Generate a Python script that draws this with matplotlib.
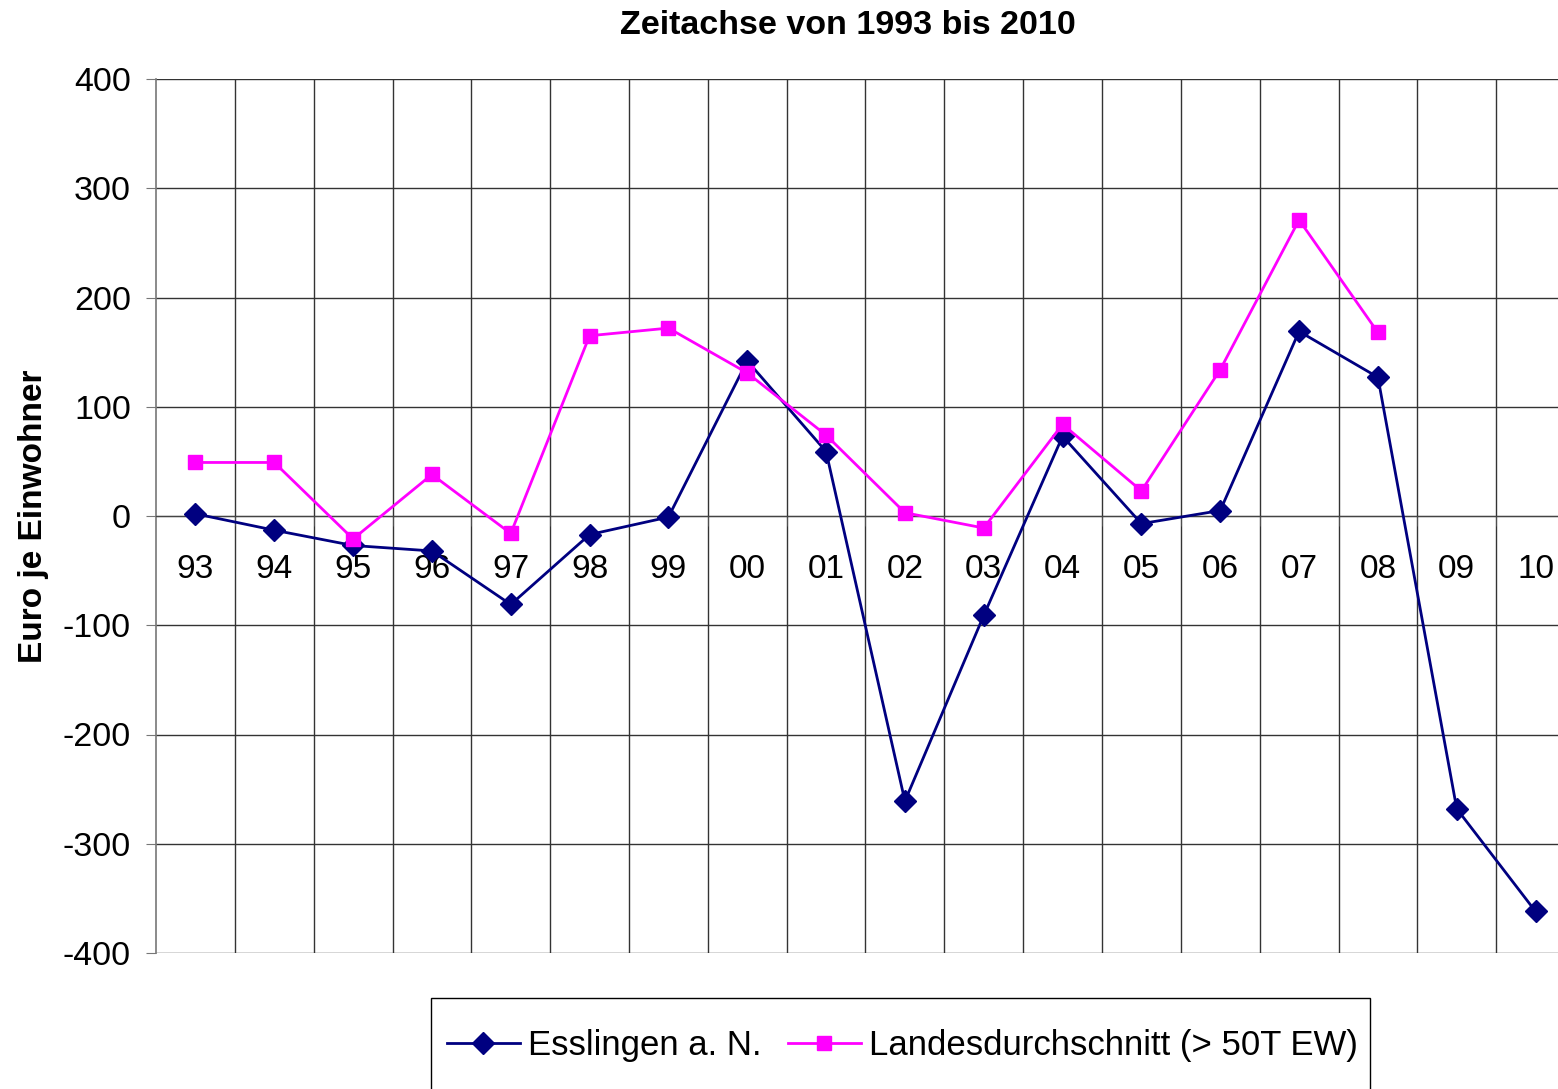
import numpy as np
import matplotlib.pyplot as plt
from matplotlib.patches import Rectangle

plt.rcParams['font.family'] = ['Liberation Sans', 'DejaVu Sans']
plt.rcParams['axes.unicode_minus'] = False

# --- Data ---
years = ['93', '94', '95', '96', '97', '98', '99', '00', '01',
         '02', '03', '04', '05', '06', '07', '08', '09', '10']
esslingen = [2, -13, -27, -32, -81, -17, -1, 142, 59,
             -261, -91, 73, -7, 5, 169, 127, -268, -362]
landes = [49, 49, -21, 38, -16, 165, 172, 131, 74,
          3, -11, 84, 23, 134, 271, 168, np.nan, np.nan]

x = np.arange(len(years))

W, H = 1558, 1089
fig = plt.figure(figsize=(W / 100, H / 100), dpi=100)
# plot area runs a little past the right edge of the picture
ax = fig.add_axes([156 / W, 1 - 953 / H, (1575 - 156) / W, 874 / H])

# spine position first: it resets tick settings
for s in ['top', 'right']:
    ax.spines[s].set_visible(False)
ax.spines['bottom'].set_position(('data', 0))
ax.spines['bottom'].set_color('#444444')
ax.spines['left'].set_color('#777777')
ax.spines['left'].set_linewidth(1.2)

ax.plot(x, esslingen, color='#000080', lw=2, marker='D', ms=11,
        label='Esslingen a. N.', zorder=3)
ax.plot(x, landes, color='#FF00FF', lw=2, marker='s', ms=10.5,
        label='Landesdurchschnitt (> 50T EW)', zorder=3)

ax.set_xlim(-0.5, len(years) - 0.5)
ax.set_ylim(-400, 400)
ax.set_yticks(np.arange(-400, 401, 100))

# grid: horizontal at major y ticks, vertical at category boundaries
ax.set_xticks(x)
ax.set_xticklabels(years)
ax.set_xticks(np.arange(0.5, len(years) - 0.5, 1), minor=True)
ax.grid(which='major', axis='y', color='#333333', lw=1)
ax.grid(which='minor', axis='x', color='#333333', lw=1)
ax.set_axisbelow(True)

ax.tick_params(axis='x', which='major', length=0, pad=27, labelsize=24)
ax.tick_params(axis='x', which='minor', length=7, color='#555555')
ax.tick_params(axis='y', length=7, color='#777777', labelsize=24.5, pad=11)

ax.set_ylabel('Euro je Einwohner', fontsize=24, fontweight='bold', labelpad=10)
fig.text(848 / W, 1 - 25 / H, 'Zeitachse von 1993 bis 2010',
         ha='center', va='center', fontsize=24.5, fontweight='bold')

# legend box (bottom cut off by the picture edge)
fig.patches.append(Rectangle((431 / W, -0.02), (1370 - 431) / W, 0.02 + 1 - 998 / H,
                             transform=fig.transFigure, fill=False,
                             edgecolor='black', lw=1))
fig.legend(loc='center left', bbox_to_anchor=(447 / W, 1 - 1046 / H),
           ncol=2, fontsize=25, frameon=False, borderpad=0, borderaxespad=0,
           handlelength=2.1, handletextpad=0.23, columnspacing=0.76)

fig.savefig('out.png', dpi=100)
